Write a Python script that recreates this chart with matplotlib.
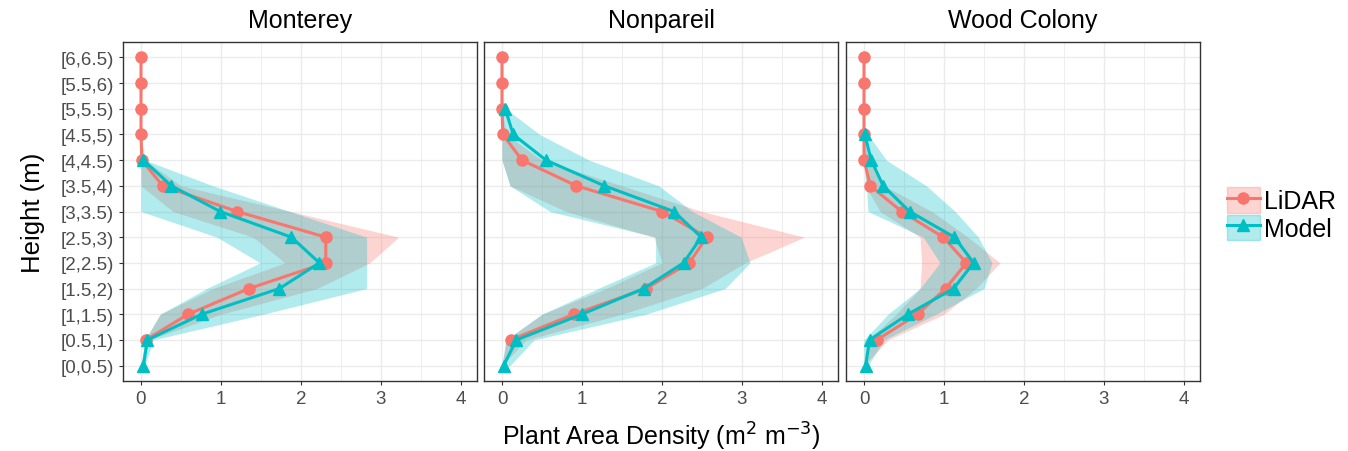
import numpy as np
import matplotlib
matplotlib.use("Agg")
import matplotlib.pyplot as plt
from matplotlib.lines import Line2D
from matplotlib.patches import Patch
from matplotlib.legend_handler import HandlerTuple
from matplotlib.ticker import MultipleLocator

plt.rcParams['font.family'] = ['Liberation Sans', 'DejaVu Sans']

heights = ['[0,0.5)', '[0.5,1)', '[1,1.5)', '[1.5,2)', '[2,2.5)', '[2.5,3)', '[3,3.5)',
           '[3.5,4)', '[4,4.5)', '[4.5,5)', '[5,5.5)', '[5.5,6)', '[6,6.5)']
sites = ['Monterey', 'Nonpareil', 'Wood Colony']
nan = np.nan

# plant area density, bottom layer first
lidar_mon = [nan, 0.06, 0.59, 1.35, 2.31, 2.31, 1.2, 0.27, 0.01, 0, 0, 0, 0]
lidar_mon_lo = [0, 0.05, 0.24, 0.9, 1.8, 1.4, 0.4, 0.0, 0, 0, 0, 0, 0]
lidar_mon_hi = [0, 0.1, 1.0, 2.2, 2.86, 3.22, 1.87, 0.5, 0.05, 0, 0, 0, 0]
model_mon = [0.03, 0.08, 0.76, 1.73, 2.23, 1.88, 0.99, 0.38, 0.03, nan, nan, nan, nan]
model_mon_lo = [0, 0.05, 0.24, 0.82, 1.49, 0.95, 0, 0, 0, nan, nan, nan, nan]
model_mon_hi = [0.05, 0.15, 1.53, 2.82, 2.82, 2.82, 1.86, 0.9, 0.05, nan, nan, nan, nan]

lidar_non = [nan, 0.11, 0.9, 1.8, 2.34, 2.56, 2.0, 0.93, 0.25, 0.01, 0, 0, 0]
lidar_non_lo = [0, 0.05, 0.5, 1.3, 2.0, 1.9, 0.8, 0.1, 0, 0, 0, 0, 0]
lidar_non_hi = [0, 0.3, 1.5, 2.5, 3.04, 3.78, 2.5, 1.5, 0.5, 0.05, 0, 0, 0]
model_non = [0.02, 0.18, 1.0, 1.77, 2.27, 2.49, 2.15, 1.28, 0.55, 0.14, 0.04, nan, nan]
model_non_lo = [0, 0.05, 0.5, 1.2, 1.92, 1.92, 0.6, 0.1, 0, 0, 0, nan, nan]
model_non_hi = [0.1, 0.4, 1.8, 2.79, 3.1, 2.99, 2.38, 1.96, 1.09, 0.47, 0.05, nan, nan]

lidar_woo = [nan, 0.16, 0.67, 1.02, 1.28, 0.99, 0.47, 0.08, 0, 0, 0, 0, 0]
lidar_woo_lo = [0, 0.05, 0.4, 0.7, 0.72, 0.7, 0.2, 0.02, 0, 0, 0, 0, 0]
lidar_woo_hi = [0, 0.3, 1.0, 1.4, 1.7, 1.3, 0.85, 0.25, 0.05, 0, 0, 0, 0]
model_woo = [0.02, 0.07, 0.55, 1.12, 1.37, 1.13, 0.57, 0.24, 0.09, 0.01, nan, nan, nan]
model_woo_lo = [0, 0.0, 0.3, 0.7, 0.95, 0.74, 0.05, 0.03, 0, 0, nan, nan, nan]
model_woo_hi = [0.05, 0.25, 0.9, 1.5, 1.6, 1.43, 1.14, 0.78, 0.28, 0.05, nan, nan, nan]

lidar = [(lidar_mon, lidar_mon_lo, lidar_mon_hi),
         (lidar_non, lidar_non_lo, lidar_non_hi),
         (lidar_woo, lidar_woo_lo, lidar_woo_hi)]
model = [(model_mon, model_mon_lo, model_mon_hi),
         (model_non, model_non_lo, model_non_hi),
         (model_woo, model_woo_lo, model_woo_hi)]

red = '#F8766D'
teal = '#00BFC4'
y = np.arange(1, len(heights) + 1)

fig = plt.figure(figsize=(13.48, 4.52), dpi=100)
lefts = [123, 484, 846]
width = 354
axes = []
for i, site in enumerate(sites):
    ax = fig.add_axes([lefts[i] / 1348, 1 - 382 / 452, width / 1348, (382 - 43) / 452])
    axes.append(ax)
    for (v, lo, hi), col, mk in [(lidar[i], red, 'o'), (model[i], teal, '^')]:
        v = np.array(v, float)
        lo = np.array(lo, float)
        hi = np.array(hi, float)
        ax.fill_betweenx(y, lo, hi, color=col, alpha=0.3, lw=0, zorder=2)
        ax.plot(v, y, color=col, lw=2.2, marker=mk, ms=8, zorder=3)
    ax.set_xlim(-0.225, 4.2)
    ax.set_ylim(0.4, 13.6)
    ax.xaxis.set_major_locator(MultipleLocator(1))
    ax.xaxis.set_minor_locator(MultipleLocator(0.5))
    ax.set_yticks(y)
    ax.set_yticklabels(heights if i == 0 else [])
    ax.grid(True, which='major', color='#EBEBEB', lw=1.0, zorder=0)
    ax.grid(True, which='minor', axis='x', color='#EBEBEB', lw=0.6, zorder=0)
    ax.set_axisbelow(True)
    for s in ax.spines.values():
        s.set_color('#333333')
        s.set_linewidth(1.0)
    ax.tick_params(which='major', length=3, color='#333333', labelcolor='#4D4D4D', labelsize=13.5)
    ax.tick_params(which='minor', length=0)
    if i > 0:
        ax.tick_params(axis='y', length=0)
    ax.set_title(site, fontsize=18, pad=11)

axes[0].set_ylabel('Height (m)', fontsize=18.5, labelpad=11)
fig.text(0.5 * (123 + 1200) / 1348, 1 - 437 / 452, 'Plant Area Density (m$^2$ m$^{-3}$)',
         ha='center', va='center', fontsize=18)

handles = [(Patch(facecolor=red, alpha=0.3, edgecolor=red), Line2D([], [], color=red, lw=2.2, marker='o', ms=8)),
           (Patch(facecolor=teal, alpha=0.3, edgecolor=teal), Line2D([], [], color=teal, lw=2.2, marker='^', ms=8))]
fig.legend(handles, ['LiDAR', 'Model'], handler_map={tuple: HandlerTuple(ndivide=1, pad=0)},
           loc='center left', bbox_to_anchor=(1227 / 1348, 1 - 215 / 452), frameon=False,
           fontsize=18, handlelength=1.3, handleheight=1.2, handletextpad=0.2, labelspacing=0.05,
           borderaxespad=0, borderpad=0)

fig.savefig('out.png', dpi=100)
